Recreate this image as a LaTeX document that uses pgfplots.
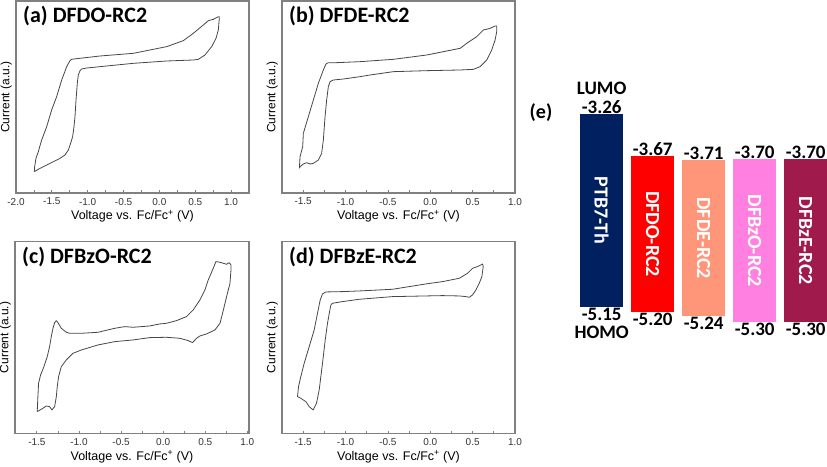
\documentclass[border=0pt]{standalone}
\usepackage{fontspec}
\setmainfont{Liberation Sans}
\newfontfamily\calfont{Carlito}
\usepackage{pgfplots}
\pgfplotsset{compat=1.18}
\definecolor{boxgray}{RGB}{128,128,128}
\definecolor{curvegray}{RGB}{70,70,70}
\definecolor{ptbnavy}{RGB}{0,32,96}
\definecolor{dfdored}{RGB}{255,0,0}
\definecolor{dfdesalmon}{RGB}{255,150,122}
\definecolor{dfbzopink}{RGB}{255,128,224}
\definecolor{dfbzemaroon}{RGB}{160,26,76}
\tikzset{
  cvline/.style={curvegray, line width=0.8pt, line join=round},
  cvtitle/.style={anchor=base west, inner sep=0pt, font=\calfont\bfseries\fontsize{22}{26}\selectfont},
  elab/.style={inner sep=0.5pt, font=\calfont\bfseries\fontsize{19}{22}\selectfont},
  barname/.style={rotate=-90, text=white, font=\calfont\bfseries\fontsize{20}{24}\selectfont},
}
\pgfplotsset{
  cvstyle/.style={
    scale only axis, anchor=south west,
    axis line style={boxgray, line width=1.1pt},
    ytick=\empty,
    xtick pos=bottom, tick align=inside,
    major tick length=2.5pt, minor tick length=2.5pt,
    minor x tick num=1,
    every tick/.style={boxgray, line width=0.8pt},
    /pgf/number format/fixed,
    /pgf/number format/fixed zerofill,
    /pgf/number format/precision=1,
    /pgf/number format/assume math mode=true,
    xticklabel style={font=\fontsize{10}{12}\selectfont, text=black!80, yshift=-1.5pt},
    xlabel={Voltage vs. Fc/Fc\textsuperscript{+} (V)},
    ylabel={Current (a.u.)},
    every axis x label/.style={at={(axis description cs:0.5,0)}, anchor=center, yshift=-23.5pt, font=\fontsize{12.5}{15}\selectfont},
    every axis y label/.style={at={(axis description cs:-0.042,0.5)}, anchor=center, rotate=90, font=\fontsize{12}{14}\selectfont},
    clip=false,
  },
}
\begin{document}
\begin{tikzpicture}
\path[use as bounding box] (0pt,0pt) rectangle (827pt,466pt);
% (a)
\begin{axis}[cvstyle, at={(16pt,273pt)}, width=233pt, height=192pt,
  xmin=-2, xmax=1.25, ymin=0, ymax=576, xtick={-2,-1.5,-1,-0.5,0,0.5,1}]
\addplot[cvline] coordinates {
(-1.744,64) (-1.740,79) (-1.721,104) (-1.689,124) (-1.642,159) (-1.572,199) (-1.503,249) (-1.433,289) (-1.363,339) (-1.293,379) (-1.247,397) (-1.224,401) (-1.154,403) (-0.828,411) (-0.364,419) (0.101,439) (0.334,457) (0.473,479) (0.613,504) (0.682,517) (0.752,521) (0.822,529) (0.836,529) (0.836,524) (0.822,489) (0.790,464) (0.729,439) (0.636,414) (0.543,401) (0.473,399) (0.101,396) (-0.364,389) (-0.689,382) (-0.828,379) (-1.014,375) (-1.084,372) (-1.107,367) (-1.131,354) (-1.145,329) (-1.163,279) (-1.177,229) (-1.191,199) (-1.210,169) (-1.238,149) (-1.270,129) (-1.317,114) (-1.386,104) (-1.479,94) (-1.572,84) (-1.665,74) (-1.744,64)};
\node[cvtitle] at (axis description cs:0.03,0.888) {(a) DFDO-RC2};
\end{axis}
% (b)
\begin{axis}[cvstyle, at={(282pt,273pt)}, width=233pt, height=192pt,
  xmin=-1.75, xmax=1.0, ymin=0, ymax=576, xtick={-1.5,-1,-0.5,0,0.5,1}]
\addplot[cvline] coordinates {
(-1.545,74) (-1.537,109) (-1.506,139) (-1.498,179) (-1.439,229) (-1.380,279) (-1.321,329) (-1.262,369) (-1.231,387) (-1.203,391) (-1.105,391) (-0.829,394) (-0.436,401) (-0.042,414) (0.155,424) (0.352,434) (0.430,449) (0.548,469) (0.627,489) (0.706,494) (0.765,501) (0.784,501) (0.784,484) (0.765,459) (0.725,429) (0.666,399) (0.588,379) (0.509,371) (0.352,369) (-0.042,367) (-0.436,364) (-0.711,354) (-0.829,349) (-1.026,342) (-1.144,339) (-1.183,334) (-1.203,319) (-1.223,279) (-1.242,229) (-1.262,159) (-1.282,119) (-1.321,99) (-1.380,89) (-1.419,87) (-1.458,91) (-1.498,87) (-1.537,79) (-1.545,74)};
\node[cvtitle] at (axis description cs:0.03,0.888) {(b) DFDE-RC2};
\end{axis}
% (c)
\begin{axis}[cvstyle, at={(15pt,32.7pt)}, width=234pt, height=191.7pt,
  xmin=-1.76, xmax=1.02, ymin=0, ymax=575, xtick={-1.5,-1,-0.5,0,0.5,1}]
\addplot[cvline] coordinates {
(-1.496,65) (-1.488,110) (-1.480,150) (-1.456,175) (-1.416,200) (-1.377,230) (-1.349,260) (-1.329,290) (-1.309,315) (-1.289,332) (-1.269,338) (-1.250,332) (-1.210,315) (-1.150,303) (-1.111,300) (-0.972,300) (-0.774,303) (-0.575,315) (-0.456,320) (-0.357,318) (-0.159,322) (-0.040,328) (0.040,330) (0.159,338) (0.278,350) (0.357,370) (0.437,400) (0.496,430) (0.536,460) (0.595,495) (0.627,515) (0.675,513) (0.754,507) (0.786,512) (0.806,505) (0.806,490) (0.794,450) (0.754,410) (0.706,360) (0.675,330) (0.615,310) (0.516,298) (0.437,292) (0.397,285) (0.349,272) (0.298,278) (0.198,285) (0.040,288) (-0.159,287) (-0.357,280) (-0.575,275) (-0.774,265) (-0.972,250) (-1.071,240) (-1.150,220) (-1.210,200) (-1.242,170) (-1.258,140) (-1.269,110) (-1.289,80) (-1.321,70) (-1.349,80) (-1.389,82) (-1.428,75) (-1.496,65)};
\node[cvtitle] at (axis description cs:0.03,0.888) {(c) DFBzO-RC2};
\end{axis}
% (d)
\begin{axis}[cvstyle, at={(282pt,32.7pt)}, width=233pt, height=191.7pt,
  xmin=-1.75, xmax=1.0, ymin=0, ymax=575, xtick={-1.5,-1,-0.5,0,0.5,1}]
\addplot[cvline] coordinates {
(-1.567,110) (-1.555,140) (-1.528,170) (-1.488,210) (-1.429,260) (-1.370,310) (-1.331,360) (-1.299,400) (-1.272,418) (-1.232,424) (-1.036,425) (-0.839,427) (-0.445,432) (-0.249,440) (-0.052,448) (0.145,455) (0.342,465) (0.440,480) (0.499,495) (0.558,500) (0.598,505) (0.617,508) (0.625,500) (0.609,470) (0.578,450) (0.539,430) (0.499,415) (0.460,408) (0.420,410) (0.342,412) (0.145,413) (-0.052,412) (-0.445,410) (-0.839,402) (-1.036,395) (-1.154,390) (-1.173,385) (-1.185,370) (-1.213,330) (-1.240,280) (-1.272,210) (-1.311,130) (-1.343,90) (-1.382,70) (-1.429,80) (-1.469,95) (-1.528,105) (-1.567,110)};
\node[cvtitle] at (axis description cs:0.03,0.888) {(d) DFBzE-RC2};
\end{axis}
% (e)
\node[font=\calfont\bfseries\fontsize{20}{24}\selectfont] at (541pt,353pt) {(e)};
\begin{axis}[scale only axis, anchor=south west, at={(576.2pt,113pt)}, width=250.9pt, height=265.5pt,
  xmin=-0.5, xmax=4.42, ymin=-5.6, ymax=-3.0, axis lines=none, clip=false]
\addplot[draw=none, fill=ptbnavy] coordinates {(-0.425,-3.26) (0.425,-3.26) (0.425,-5.15) (-0.425,-5.15)} -- cycle;
\addplot[draw=none, fill=dfdored] coordinates {(0.575,-3.67) (1.425,-3.67) (1.425,-5.20) (0.575,-5.20)} -- cycle;
\addplot[draw=none, fill=dfdesalmon] coordinates {(1.575,-3.71) (2.425,-3.71) (2.425,-5.24) (1.575,-5.24)} -- cycle;
\addplot[draw=none, fill=dfbzopink] coordinates {(2.575,-3.70) (3.425,-3.70) (3.425,-5.30) (2.575,-5.30)} -- cycle;
\addplot[draw=none, fill=dfbzemaroon] coordinates {(3.575,-3.70) (4.425,-3.70) (4.425,-5.30) (3.575,-5.30)} -- cycle;
% LUMO labels
\node[elab, anchor=south] at (axis cs:0,-3.26) {-3.26};
\node[elab, anchor=south] at (axis cs:1,-3.67) {-3.67};
\node[elab, anchor=south] at (axis cs:2,-3.71) {-3.71};
\node[elab, anchor=south] at (axis cs:3,-3.70) {-3.70};
\node[elab, anchor=south] at (axis cs:4,-3.70) {-3.70};
% HOMO labels
\node[elab, anchor=north] at (axis cs:0,-5.15) {-5.15};
\node[elab, anchor=north] at (axis cs:1,-5.20) {-5.20};
\node[elab, anchor=north] at (axis cs:2,-5.24) {-5.24};
\node[elab, anchor=north] at (axis cs:3,-5.30) {-5.30};
\node[elab, anchor=north] at (axis cs:4,-5.30) {-5.30};
\node[elab, anchor=south, yshift=19pt] at (axis cs:0,-3.26) {LUMO};
\node[elab, anchor=north, yshift=-18pt] at (axis cs:0,-5.15) {HOMO};
% names in bars
\node[barname] at (axis cs:0,-4.205) {PTB7-Th};
\node[barname] at (axis cs:1,-4.435) {DFDO-RC2};
\node[barname] at (axis cs:2,-4.475) {DFDE-RC2};
\node[barname] at (axis cs:3,-4.50) {DFBzO-RC2};
\node[barname] at (axis cs:4,-4.50) {DFBzE-RC2};
\end{axis}
\end{tikzpicture}
\end{document}
